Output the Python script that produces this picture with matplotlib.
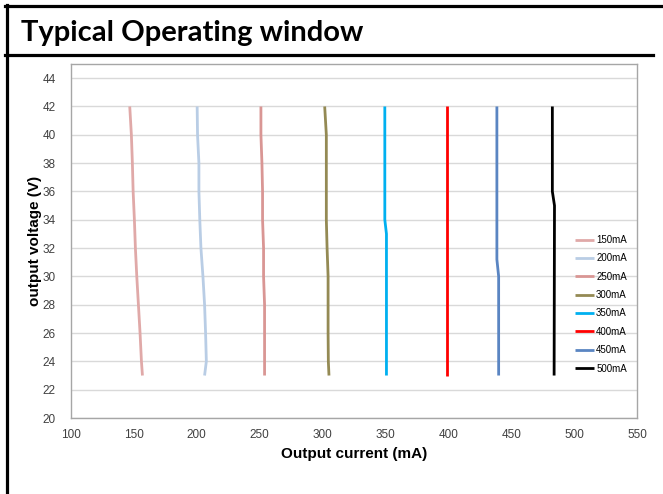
import matplotlib.pyplot as plt
from matplotlib.lines import Line2D

# ---------------------------------------------------------------
# data (current in mA at given output voltage)
# ---------------------------------------------------------------
v_grid = [42, 40, 38, 36, 34, 32, 30, 28, 26, 24, 23]

i_150 = [146.7, 148.0, 148.8, 149.4, 150.4, 151.2, 152.3, 153.6, 154.9, 156.0, 156.8]
i_200 = [200.3, 200.6, 201.7, 201.7, 202.4, 203.3, 204.9, 206.2, 207.0, 207.6, 206.2]
i_250 = [251.0, 251.0, 251.8, 252.3, 252.3, 253.1, 253.1, 253.9, 253.9, 253.9, 253.9]
i_300 = [301.7, 303.0, 303.0, 303.0, 303.0, 303.6, 304.4, 304.4, 304.4, 304.6, 305.1]

v_350 = [42, 34, 33, 23]
i_350 = [349.5, 349.5, 350.8, 350.8]
v_400 = [42, 23]
i_400 = [398.8, 398.8]
v_450 = [42, 31.2, 30, 23]
i_450 = [438.6, 438.6, 440.0, 440.0]
v_500 = [42, 36, 35, 23]
i_500 = [482.7, 482.7, 484.4, 484.1]

labels = ["150mA", "200mA", "250mA", "300mA", "350mA", "400mA", "450mA", "500mA"]
colors = ["#E0A9A8", "#B9CDE5", "#D99694", "#948A54",
          "#00B0F0", "#FF0000", "#5A85C2", "#000000"]

x_ticks = list(range(100, 551, 50))
y_ticks = list(range(20, 45, 2))

series = [
    (i_150, v_grid), (i_200, v_grid), (i_250, v_grid), (i_300, v_grid),
    (i_350, v_350), (i_400, v_400), (i_450, v_450), (i_500, v_500),
]

# ---------------------------------------------------------------
# figure
# ---------------------------------------------------------------
W, H = 663, 494
fig = plt.figure(figsize=(W / 100, H / 100), dpi=100)
plt.rcParams["font.family"] = ["Liberation Sans", "DejaVu Sans"]

ax = fig.add_axes([71 / W, 1 - 418 / H, (637 - 71) / W, (418 - 64) / H])

for (xs, ys), lab, col in zip(series, labels, colors):
    ax.plot(xs, ys, color=col, lw=2.0, label=lab, solid_capstyle="butt")

ax.set_xlim(100, 550)
ax.set_ylim(20, 45)
ax.set_xticks(x_ticks)
ax.set_yticks(y_ticks)
ax.grid(axis="y", color="#D9D9D9", lw=1.0)
ax.set_axisbelow(True)
for s in ax.spines.values():
    s.set_color("#A6A6A6")
    s.set_linewidth(1.0)
ax.tick_params(axis="both", length=0, labelsize=8.5, colors="#404040")
ax.tick_params(axis="y", pad=11)
ax.tick_params(axis="x", pad=8)

ax.set_xlabel("Output current (mA)", fontsize=11, fontweight="bold", labelpad=4.5)
ax.set_ylabel("output voltage (V)", fontsize=11, fontweight="bold", labelpad=0.5)

ax.legend(loc="upper left", bbox_to_anchor=(0.890, 0.517), frameon=False,
          fontsize=7, handlelength=2.0, handletextpad=0.2,
          labelspacing=0.86, borderpad=0, borderaxespad=0)

# page frame and heading
fig.add_artist(Line2D([6.5 / W, 6.5 / W], [0, 1 - 5 / H], color="black", lw=2.3))
fig.add_artist(Line2D([5 / W, 1], [1 - 6.5 / H, 1 - 6.5 / H], color="black", lw=2.3))
fig.add_artist(Line2D([5 / W, 653 / W], [1 - 55.5 / H, 1 - 55.5 / H], color="black", lw=2.3))

fig.text(21 / W, 1 - 41 / H, "Typical Operating window", fontsize=21,
         fontweight="bold", family=["Lato", "DejaVu Sans"], va="baseline")

fig.savefig("out.png", dpi=100)
